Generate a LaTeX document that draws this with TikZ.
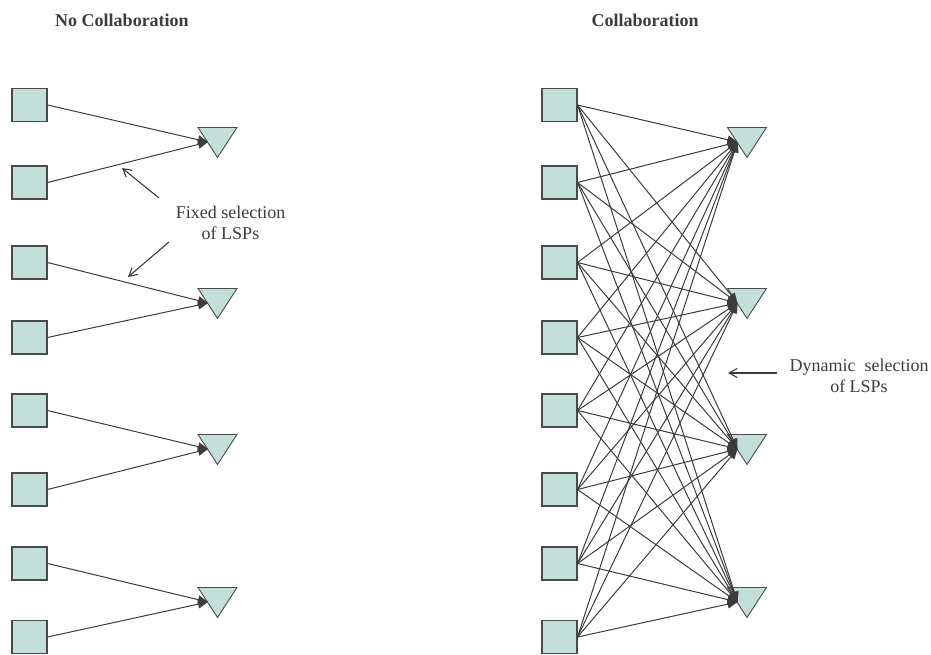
\documentclass[tikz,border=0pt]{standalone}
\usepackage{fontspec}
\setmainfont{Liberation Serif}
\usetikzlibrary{shapes.geometric,arrows.meta,calc}
\definecolor{boxfill}{HTML}{C2DFD9}
\definecolor{edge}{HTML}{4A4A4A}
\definecolor{ink}{HTML}{3C3C3C}
\begin{document}
\begin{tikzpicture}[x=1pt,y=-1pt,
  lsr/.style={rectangle, draw=edge, line width=1.1pt, fill=boxfill,
    minimum width=35pt, minimum height=33pt, inner sep=0pt},
  ler/.style={isosceles triangle, isosceles triangle stretches,
    shape border rotate=270, draw=edge, line width=0.9pt, fill=boxfill,
    minimum width=39pt, minimum height=30pt, inner sep=0pt, anchor=north},
  link/.style={draw=ink, line width=1pt, -{Triangle[length=10pt,width=8.5pt]}},
  note/.style={align=center, text=ink, font=\fontsize{18}{21}\selectfont},
  title/.style={text=ink, font=\fontsize{18}{21}\selectfont\bfseries},
  pointer/.style={draw=ink, line width=1.1pt, -{Straight Barb[length=8pt,width=9pt,line width=1.1pt]}}]
\useasboundingbox (0,0) rectangle (931,655);

% titles
\node[title] (h1) at (122,20) {No Collaboration};
\node[title] (h2) at (645,20) {Collaboration};

% sources (squares)
\foreach \i/\y in {1/105,2/182.5,3/262.5,4/337.5,5/410.5,6/489.5,7/563.5,8/637}{
  \node[lsr] (a\i) at (29.5,\y) {};
  \node[lsr] (b\i) at (559.5,\y) {};
}

% sinks (triangles) and arrow targets on their left sides
\foreach \j/\y in {1/127,2/288,3/434,4/587}{
  \node[ler] (p\j) at (217.5,\y) {};
  \node[ler] (q\j) at (747,\y) {};
  \coordinate (pin\j) at ($(p\j.north)+(-9.5,15)$);
  \coordinate (qin\j) at ($(q\j.north)+(-9.5,15)$);
}

% fixed pairing
\foreach \i/\j in {1/1,2/1,3/2,4/2,5/3,6/3,7/4,8/4}{
  \draw[link] (a\i.east) -- (pin\j);
}

% full mesh
\foreach \i in {1,...,8}{
  \foreach \j in {1,...,4}{
    \draw[link] (b\i.east) -- (qin\j);
  }
}

% annotations
\node[note] (fixed) at (230.5,223) {Fixed selection\\of LSPs};
\coordinate (f1s) at (159,198);
\coordinate (f1e) at (122,168);
\coordinate (f2s) at (169,242);
\coordinate (f2e) at (128,277);
\draw[pointer] (f1s) -- (f1e);
\draw[pointer] (f2s) -- (f2e);

\node[note] (dyn) at (859,376) {Dynamic\ \ selection\\of LSPs};
\coordinate (d1s) at (777,373);
\coordinate (d1e) at (728,373);
\draw[pointer] (d1s) -- (d1e);
\end{tikzpicture}
\end{document}
